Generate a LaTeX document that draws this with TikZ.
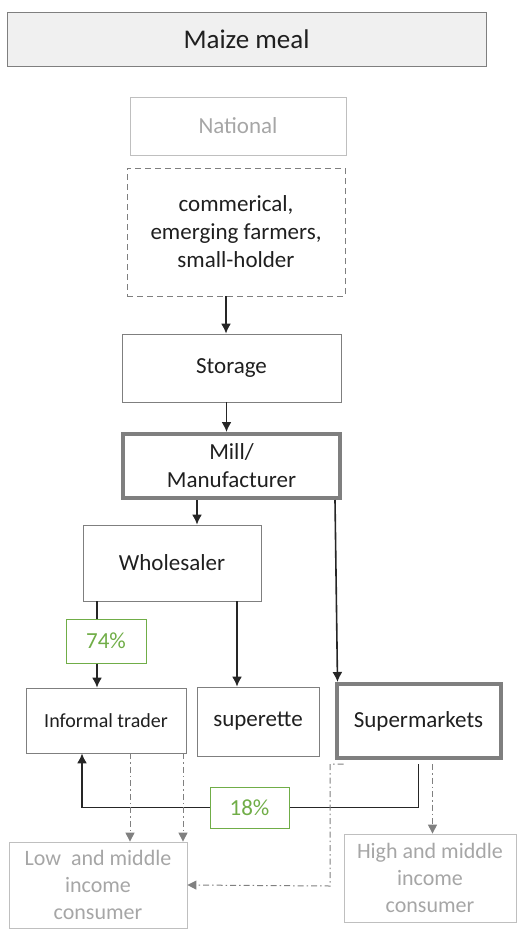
\documentclass[tikz,border=0pt]{standalone}
\usepackage{fontspec}
\setmainfont{Carlito}
\usepackage{tikz}
\usetikzlibrary{calc, shapes, arrows, arrows.meta}
\definecolor{boxgray}{HTML}{7F7F7F}
\definecolor{lightgray}{HTML}{BFBFBF}
\definecolor{fadetext}{HTML}{A6A6A6}
\definecolor{pctgreen}{HTML}{70AD47}
\definecolor{darktext}{HTML}{1F1F1F}
\tikzstyle{block} = [draw=boxgray, rectangle, line width=0.8pt, text=darktext,
    align=center, font=\fontsize{23}{28}\selectfont]
\tikzstyle{mainblock} = [block, line width=4pt]
\tikzstyle{faded} = [block, draw=lightgray, text=fadetext, font=\fontsize{22}{27}\selectfont]
\tikzstyle{share} = [draw=pctgreen, rectangle, line width=1pt, text=pctgreen,
    font=\fontsize{23}{27}\selectfont]
\tikzstyle{flow} = [-{Latex[length=10pt,width=10pt]}, line width=1.6pt, draw=black!85]
\tikzstyle{consume} = [-{Triangle[length=9pt,width=9pt]}, line width=1pt, draw=gray,
    dash pattern=on 6pt off 3pt on 1.5pt off 3pt]

\begin{document}
\begin{tikzpicture}[x=1pt, y=-1pt]
        \useasboundingbox (0, 0) rectangle (517, 931);
        \node[block, fill=black!6, font=\fontsize{27}{32}\selectfont, minimum width=479pt, minimum height=54pt, name=title] at (246.5, 39) {Maize meal};
        \node[faded, font=\fontsize{23}{28}\selectfont, minimum width=216pt, minimum height=58pt, name=national] at (238, 126) {National};
        \node[block, dash pattern=on 6pt off 4pt, minimum width=218pt, minimum height=128pt, name=farmers] at (236, 232) {commerical,\\emerging farmers,\\small-holder};
        \node[block, minimum width=219pt, minimum height=68pt, name=storage] at (231.5, 368) {Storage};
        \node[mainblock, minimum width=217pt, minimum height=64pt, name=mill] at (231.5, 466) {Mill/\\Manufacturer};
        \node[block, minimum width=178pt, minimum height=76pt, name=wholesaler] at (172, 563) {Wholesaler};
        \node[share, minimum width=80pt, minimum height=44pt, name=p74] at (106, 641) {74\%};
        \node[block, font=\fontsize{20}{24}\selectfont, minimum width=160pt, minimum height=65pt, name=informal] at (106, 720.5) {Informal trader};
        \node[block, minimum width=122pt, minimum height=69pt, name=superette] at (258, 721.5) {superette};
        \node[mainblock, minimum width=164pt, minimum height=74pt, name=supermarkets] at (418.5, 721) {Supermarkets};
        \node[share, minimum width=79pt, minimum height=41pt, name=p18] at (249.5, 807.5) {18\%};
        \node[faded, minimum width=178pt, minimum height=86pt, name=low] at (98, 885) {Low\ \ and middle\\income\\consumer};
        \node[faded, minimum width=172pt, minimum height=88pt, name=high] at (430, 878) {High and middle\\income\\consumer};

        \draw[flow] ([xshift=-10pt]farmers.south) -- ([xshift=-10pt]farmers.south |- storage.north);
        \draw[flow] ([xshift=-5pt]storage.south) -- ([xshift=-5pt]storage.south |- mill.north);
        \draw[flow] ([xshift=25pt]wholesaler.north |- mill.south) -- ([xshift=25pt]wholesaler.north);
        \draw[flow] ([xshift=-7pt]mill.south east) -- ([xshift=3pt]supermarkets.north west);
        \draw[flow, -] ([xshift=-9pt]p74.north |- wholesaler.south) -- ([xshift=-9pt]p74.north);
        \draw[flow] ([xshift=-9pt]p74.south) -- ([xshift=-9pt]p74.south |- informal.north);
        \draw[flow] ([xshift=-21pt]superette.north |- wholesaler.south) -- ([xshift=-21pt]superette.north);
        \draw[flow, -] ([yshift=-4pt]supermarkets.south) |- (p18.east);
        \draw[flow] (p18.west) -| ([xshift=-24pt]informal.south);

        \coordinate (turn) at (330, 886);
        \draw[consume] ([xshift=24pt]informal.south) -- ([xshift=24pt]informal.south |- low.north);
        \draw[consume] ([xshift=77pt]informal.south) -- ([xshift=77pt]informal.south |- low.north);
        \draw[consume] ([shift={(9pt,-4pt)}]supermarkets.south west) -| (turn) -- (low.east);
        \draw[consume] ([shift={(14pt,-4pt)}]supermarkets.south) -- ([xshift=14pt]supermarkets.south |- high.north);
    \end{tikzpicture}
\end{document}
